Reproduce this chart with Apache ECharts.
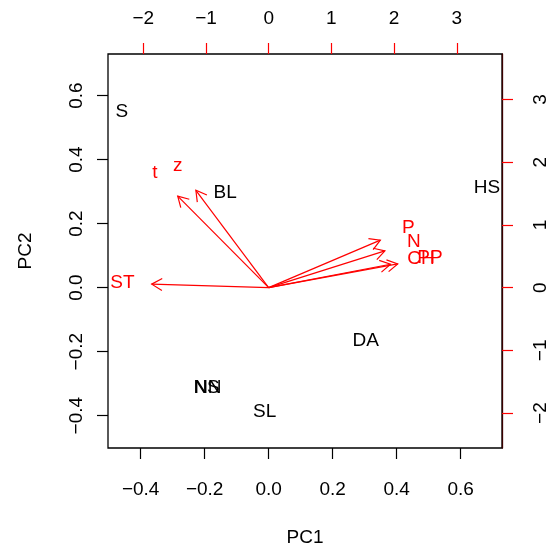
<!DOCTYPE html>
<html>
<head>
<meta charset="utf-8">
<script src="https://cdn.jsdelivr.net/npm/echarts@6/dist/echarts.min.js"></script>
<style>
  html, body { margin: 0; padding: 0; background: #fff; }
  #chart { width: 548px; height: 547px; }
</style>
</head>
<body>
<div id="chart"></div>
<script>
// Observation scores (PC1, PC2)
const obsNames = ['S', 'BL', 'HS', 'DA', 'SL', 'NS', 'NN'];
const obsPC1 = [-0.459, -0.136, 0.682, 0.303, -0.0125, -0.194, -0.190];
const obsPC2 = [0.550, 0.295, 0.311, -0.166, -0.3875, -0.313, -0.313];

// Variable loadings (label positions on the loading scale)
const varNames = ['ST', 't', 'z', 'P', 'N', 'CH', 'PP'];
const varPC1 = [-2.332, -1.813, -1.451, 2.226, 2.317, 2.429, 2.573];
const varPC2 = [0.070, 1.825, 1.941, 0.947, 0.734, 0.466, 0.474];

// Axis ticks
const scoreTicks = [-0.4, -0.2, 0.0, 0.2, 0.4, 0.6];
const loadTicks = [-2, -1, 0, 1, 2, 3];

// Plot limits (equal aspect); loading axes share the same frame
const scoreXLim = [-0.502, 0.729];
const scoreYLim = [-0.501, 0.730];
const loadRatio = 5.104;

const FONT = 'Liberation Sans, Arial, Helvetica, sans-serif';
const FS = 19;
const RED = '#ff0000';

const minusFmt = (d) => (v) => (v < 0 ? '\u2212' : '') + Math.abs(v).toFixed(d);

const chart = echarts.init(document.getElementById('chart'), null, { renderer: 'canvas' });

function textItem(color) {
  return function (params, api) {
    const p = api.coord([api.value(0), api.value(1)]);
    return {
      type: 'text',
      x: p[0], y: p[1],
      style: {
        text: api.value(2),
        fill: color,
        font: FS + 'px ' + FONT,
        align: 'center',
        verticalAlign: 'middle'
      }
    };
  };
}

// Arrows run from the origin to 0.8 of each loading, as in a classic biplot
function arrowItem(params, api) {
  const o = api.coord([0, 0]);
  const p = api.coord([api.value(0) * 0.8, api.value(1) * 0.8]);
  const ang = Math.atan2(p[1] - o[1], p[0] - o[0]);
  const L = 12, a = Math.PI / 6;
  const h1 = [p[0] - L * Math.cos(ang - a), p[1] - L * Math.sin(ang - a)];
  const h2 = [p[0] - L * Math.cos(ang + a), p[1] - L * Math.sin(ang + a)];
  return {
    type: 'group',
    children: [
      { type: 'line', shape: { x1: o[0], y1: o[1], x2: p[0], y2: p[1] },
        style: { stroke: RED, lineWidth: 1.2 } },
      { type: 'polyline', shape: { points: [h1, p, h2] },
        style: { stroke: RED, fill: null, lineWidth: 1.2 } }
    ]
  };
}

const obsData = obsNames.map((n, i) => [obsPC1[i], obsPC2[i], n]);
const varData = varNames.map((n, i) => [varPC1[i], varPC2[i], n]);

const labelStyle = { fontSize: FS, fontFamily: FONT, color: '#000' };

chart.setOption({
  animation: false,
  backgroundColor: '#fff',
  grid: {
    left: 108, right: 46, top: 54, bottom: 99,
    containLabel: false, outerBoundsMode: 'none',
    show: true, borderColor: '#000', borderWidth: 1.3, backgroundColor: 'transparent'
  },
  xAxis: [
    {
      type: 'value', position: 'bottom',
      min: scoreXLim[0], max: scoreXLim[1],
      splitLine: { show: false },
      axisLine: { show: false, onZero: false },
      axisTick: { show: true, length: 11, lineStyle: { color: '#000', width: 1.2 }, customValues: scoreTicks },
      axisLabel: Object.assign({ customValues: scoreTicks, formatter: minusFmt(1), margin: 32 }, labelStyle),
      name: 'PC1', nameLocation: 'middle', nameGap: 80,
      nameTextStyle: { fontSize: FS, fontFamily: FONT, color: '#000' }
    },
    {
      type: 'value', position: 'top',
      min: scoreXLim[0] * loadRatio, max: scoreXLim[1] * loadRatio,
      splitLine: { show: false },
      axisLine: { show: false, onZero: false },
      axisTick: { show: true, length: 11, lineStyle: { color: RED, width: 1.2 }, customValues: loadTicks },
      axisLabel: Object.assign({ customValues: loadTicks, formatter: minusFmt(0), margin: 26 }, labelStyle)
    }
  ],
  yAxis: [
    {
      type: 'value', position: 'left',
      min: scoreYLim[0], max: scoreYLim[1],
      splitLine: { show: false },
      axisLine: { show: false, onZero: false },
      axisTick: { show: true, length: 11, lineStyle: { color: '#000', width: 1.2 }, customValues: scoreTicks },
      axisLabel: Object.assign({ customValues: scoreTicks, formatter: minusFmt(1), rotate: 90, margin: 22 }, labelStyle),
      name: 'PC2', nameLocation: 'middle', nameGap: 73,
      nameTextStyle: { fontSize: FS, fontFamily: FONT, color: '#000' }
    },
    {
      type: 'value', position: 'right',
      min: scoreYLim[0] * loadRatio, max: scoreYLim[1] * loadRatio,
      splitLine: { show: false },
      axisLine: { show: true, onZero: false, lineStyle: { color: '#3a0000', width: 1.3 } },
      axisTick: { show: true, length: 11, lineStyle: { color: RED, width: 1.2 }, customValues: loadTicks },
      axisLabel: Object.assign({ customValues: loadTicks, formatter: minusFmt(0), rotate: 90, margin: 29 }, labelStyle)
    }
  ],
  series: [
    {
      type: 'custom', name: 'scores',
      xAxisIndex: 0, yAxisIndex: 0,
      renderItem: textItem('#000'),
      encode: { x: 0, y: 1 },
      data: obsData
    },
    {
      type: 'custom', name: 'loadings',
      xAxisIndex: 1, yAxisIndex: 1,
      renderItem: arrowItem,
      encode: { x: 0, y: 1 },
      data: varData
    },
    {
      type: 'custom', name: 'loading labels',
      xAxisIndex: 1, yAxisIndex: 1,
      renderItem: textItem(RED),
      encode: { x: 0, y: 1 },
      data: varData
    }
  ]
});
</script>
</body>
</html>
